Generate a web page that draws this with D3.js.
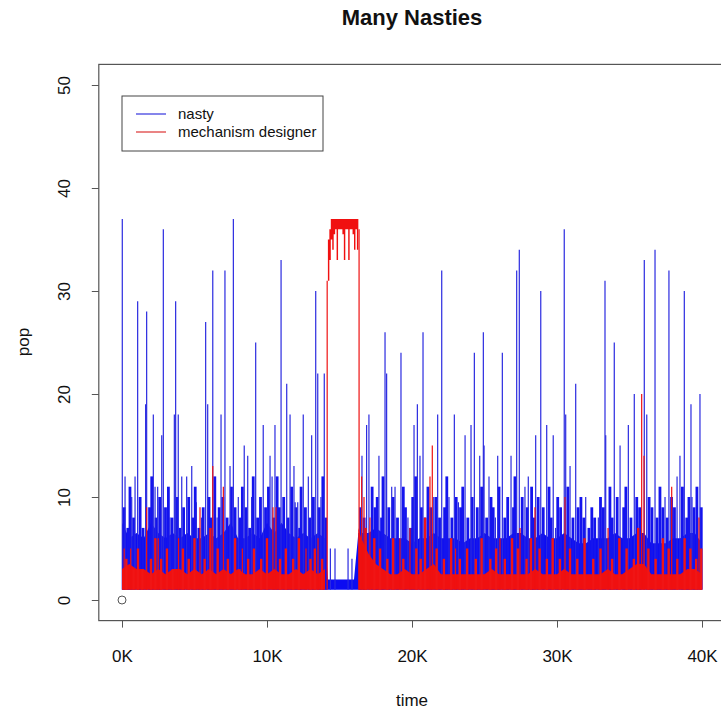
<!DOCTYPE html>
<html>
<head>
<meta charset="utf-8">
<script src="https://cdn.jsdelivr.net/npm/d3@7"></script>
<style>
  body { margin: 0; background: #fff; }
  text { font-family: "Liberation Sans", Arial, sans-serif; fill: #111; }
</style>
</head>
<body>
<svg id="chart" width="721" height="712"></svg>
<script>
// dense band (upper edge of the bulk of each series)
const bandT = [0, 500, 1000, 1500, 2000, 2500, 3000, 3500, 4000, 4500, 5000, 5500, 6000, 6500, 7000, 7500,
  8000, 8500, 9000, 9500, 10000, 10500, 11000, 11500, 12000, 12500, 13000, 13500, 14000, 14200, 14500, 15000,
  15500, 16000, 16300, 16500, 17000, 17500, 18000, 18500, 19000, 19500, 20000, 20500, 21000, 21500, 22000,
  22500, 23000, 23500, 24000, 24500, 25000, 25500, 26000, 26500, 27000, 27500, 28000, 28500, 29000, 29500,
  30000, 30500, 31000, 31500, 32000, 32500, 33000, 33500, 34000, 34500, 35000, 35500, 36000, 36500, 37000,
  37500, 38000, 38500, 39000, 39500, 40000]
const nastyBand = [7.5, 6, 6.5, 6, 7.5, 6.5, 6, 6.5, 6, 6.5, 6, 6, 6.5, 6, 6.5, 7.5,
  6, 6, 6.5, 6, 7.5, 6.5, 7.5, 6.5, 6, 6.5, 6, 6.5, 6, 2, 2, 2,
  2, 2, 6.5, 6.5, 6.5, 7, 6.5, 6, 6, 6, 5.5, 6, 6, 6.5, 6,
  6, 6, 5.5, 6, 6, 6.5, 6, 6, 6, 6.5, 6.5, 6, 6, 6.5, 6,
  6, 6.5, 6, 5.5, 5.5, 6, 6, 6, 6.5, 6, 6, 6.5, 6.5, 5.5, 5.5,
  5.5, 6, 6, 6.5, 6.5, 5.5]
const mdBand = [3, 3.5, 3, 3, 2.5, 3, 2.5, 3, 3, 2.5, 3, 2.5, 3, 2.5, 3, 2.5,
  3, 2.5, 2.5, 3, 2.5, 3, 2.5, 2.5, 3, 2.5, 3, 2.5, 3, 0, 0, 0,
  0, 0, 7, 6, 4.5, 3.5, 3, 2.5, 2.5, 3, 2.5, 2.5, 3, 3.5, 2.5,
  2.5, 2.5, 2.5, 2.5, 2.5, 2.5, 3, 2.5, 2.5, 2.5, 2.5, 2.5, 3, 2.5, 2.5,
  2.5, 3, 2.5, 2.5, 2.5, 2.5, 2.5, 3, 2.5, 2.5, 3, 3.5, 3.5, 2.5, 2.5,
  2.5, 2.5, 2.5, 3, 3, 2.5]
const bandFloor = 1

// mechanism designer plateau
const plateauT = [14200, 14300, 14400, 14500, 14600, 14700, 14800, 14900, 15000, 15100, 15200,
  15300, 15400, 15500, 15600, 15700, 15800, 15900, 16000, 16100, 16200, 16300]
const plateauLow = [31, 33, 35, 34, 35.5, 36, 33, 36, 36, 36, 35.5,
  33, 36, 36, 33, 36, 36, 35.5, 34, 36, 34, 36]
const plateauHigh = [35, 36, 37, 37, 37, 37, 37, 37, 37, 37, 37,
  37, 37, 37, 37, 37, 37, 37, 37, 37, 37, 37]

// tall single peaks: [time, pop]
const nastyPeaks = [
  [20, 37], [210, 12], [670, 10], [900, 12], [1080, 29], [1630, 19], [1700, 28], [2160, 18], [2280, 11],
  [2460, 11], [2740, 16], [2850, 36], [3310, 8], [3610, 18], [3700, 29], [3880, 18], [4120, 12], [4460, 12],
  [4810, 13], [5130, 9.5], [5480, 8], [5770, 27], [5910, 19], [6260, 32], [6560, 8], [6830, 18], [7100, 32],
  [7450, 13], [7680, 37], [8020, 10], [8430, 15], [8670, 14], [8940, 10], [9220, 25], [9740, 17],
  [10210, 14], [10350, 12], [10550, 17], [10970, 33], [11360, 21], [11590, 18], [11860, 13], [11940, 9.5],
  [12120, 9.5], [12500, 18], [12850, 12], [13080, 16], [13360, 30], [13500, 22], [13720, 10], [13950, 22],
  [14370, 5], [14690, 5], [15590, 5], [15860, 4],
  [16550, 14], [16870, 17], [17030, 18], [17720, 14], [18140, 26], [18250, 22], [18600, 11], [18830, 11],
  [19240, 24], [19720, 8], [20140, 17], [20370, 19], [20550, 14], [20760, 26], [21500, 10], [21770, 18],
  [22050, 32], [22550, 10], [22920, 18], [23200, 9.5], [23660, 16], [24070, 17], [24300, 24], [24670, 14],
  [24920, 26], [24970, 15], [25310, 12], [25750, 8], [25910, 14], [26230, 24], [26830, 14], [27220, 32],
  [27400, 34], [27790, 11], [28020, 12], [28530, 16], [28880, 30], [29290, 17], [29740, 16], [29900, 7],
  [30500, 36], [30600, 18], [30900, 13], [31290, 21], [31980, 10], [32850, 8], [33310, 31], [33360, 16],
  [33950, 25], [34350, 15], [34920, 17], [35330, 20], [36020, 33], [36190, 18], [36760, 34], [37450, 10],
  [37720, 32], [38280, 12], [38480, 14], [38780, 30], [39240, 19], [39310, 10], [39860, 20]
]
// the many short peaks that make up the ragged top of the band
const nastyMid = [
  [150, 9], [400, 7], [550, 11], [800, 8], [1250, 10], [1450, 7], [1900, 9], [2050, 12], [2350, 8], [2600, 10],
  [3000, 9], [3200, 11], [3450, 8], [3800, 10], [4000, 7], [4250, 9], [4600, 10], [4900, 8], [5050, 11],
  [5300, 7], [5600, 9], [6000, 10], [6150, 8], [6400, 12], [6700, 9], [6950, 10], [7250, 8], [7550, 11],
  [7800, 9], [8150, 8], [8300, 11], [8550, 9], [8800, 7], [9050, 12], [9350, 8], [9550, 10], [9900, 9],
  [10100, 11], [10450, 8], [10700, 12], [10850, 9], [11150, 10], [11450, 8], [11700, 11], [12000, 9],
  [12250, 7], [12350, 11], [12650, 9], [12950, 8], [13200, 10], [13600, 9], [13850, 12], [14050, 8],
  [16450, 9], [16700, 8], [17250, 11], [17450, 9], [17600, 10], [17900, 8], [18000, 12], [18400, 9],
  [18700, 10], [19000, 8], [19400, 11], [19550, 9], [19900, 7], [20050, 10], [20250, 12], [20650, 9],
  [20900, 8], [21100, 11], [21300, 9], [21650, 10], [21900, 8], [22250, 9], [22400, 12], [22750, 8],
  [23050, 10], [23350, 9], [23500, 11], [23850, 8], [24150, 10], [24500, 9], [24800, 11], [25150, 8],
  [25450, 10], [25600, 9], [26000, 11], [26400, 8], [26600, 10], [27000, 9], [27100, 12], [27600, 10],
  [27950, 9], [28250, 11], [28400, 8], [28700, 10], [29050, 9], [29450, 11], [29600, 8], [30050, 10],
  [30250, 9], [30750, 11], [31100, 8], [31450, 9], [31650, 10], [31850, 8], [32200, 7], [32400, 9],
  [32600, 8], [33000, 10], [33200, 9], [33650, 11], [33800, 8], [34150, 10], [34600, 9], [34750, 11],
  [35100, 8], [35500, 10], [35700, 9], [36350, 10], [36550, 9], [36900, 8], [37100, 11], [37300, 9],
  [37600, 8], [37900, 10], [38100, 9], [38650, 11], [38950, 8], [39100, 10], [39450, 9], [39650, 11],
  [39950, 9]
]
const mdPeaks = [
  [150, 5], [600, 5], [1700, 9], [2500, 6], [3900, 6], [5380, 9], [6260, 13], [6990, 11], [8300, 5],
  [10410, 9], [10620, 9], [12690, 5], [13520, 6],
  [14150, 31], [16350, 36],
  [16530, 12], [16690, 10], [17100, 8], [19170, 6], [19860, 7], [21240, 12], [21400, 15], [23000, 5],
  [26070, 6], [27450, 7], [28480, 9], [30550, 10], [33520, 7], [35840, 20], [36000, 14], [37910, 11],
  [39790, 8]
]
const mdMid = [
  [300, 4], [800, 3], [1100, 5], [1400, 3], [2000, 4], [2300, 6], [2700, 4], [3100, 5], [3500, 3], [4200, 5],
  [4600, 4], [5000, 6], [5700, 4], [6100, 7], [6600, 5], [7300, 4], [7800, 6], [8100, 3], [8700, 4],
  [9100, 5], [9600, 4], [10000, 6], [10900, 4], [11300, 5], [11800, 4], [12200, 6], [13000, 4], [13300, 5],
  [13800, 4], [16800, 7], [17400, 6], [17800, 5], [18300, 4], [18700, 6], [19400, 4], [20300, 5],
  [20600, 4], [20900, 8], [21700, 5], [22200, 4], [22700, 6], [23300, 4], [23800, 5], [24400, 4],
  [24800, 6], [25400, 4], [25800, 5], [26400, 4], [26900, 6], [27300, 5], [27900, 4], [28200, 6],
  [28800, 5], [29300, 4], [29700, 6], [30200, 4], [30900, 5], [31400, 4], [31900, 6], [32500, 4],
  [33000, 5], [33800, 4], [34300, 6], [34800, 5], [35300, 4], [35600, 7], [36300, 5], [36800, 4],
  [37300, 6], [37700, 5], [38300, 4], [38800, 6], [39200, 5], [39600, 4], [39950, 5]
]

const xTicks = [0, 10000, 20000, 30000, 40000]
const yTicks = [0, 10, 20, 30, 40, 50]

const svg = d3.select('#chart')

let x = d3.scaleLinear().domain([-1600, 41600]).range([98.8, 725.2])
let y = d3.scaleLinear().domain([-2, 52]).range([620.6, 64.4])

let bandArea = d3.area()
    .x(d => x(d.t))
    .y0(y(bandFloor))
    .y1(d => y(d.v))
    .defined(d => d.v > 0)

let plot = svg.append('g')

function spikes(data, cls, colour, width) {
    plot.selectAll('line.' + cls)
        .data(data)
        .join('line')
        .attr('class', cls)
        .attr('x1', d => x(d[0]))
        .attr('x2', d => x(d[0]))
        .attr('y1', y(bandFloor))
        .attr('y2', d => y(d[1]))
        .attr('stroke', colour)
        .attr('stroke-width', width)
}

// nasty first, then mechanism designer on top (as in the original)
plot.append('path')
    .datum(bandT.map((t, i) => ({ t: t, v: nastyBand[i] })))
    .attr('d', bandArea)
    .attr('fill', '#0c0cf2')
spikes(nastyMid, 'nmid', '#1414ee', 2.8)
spikes(nastyPeaks, 'nasty', '#2a2ae0', 1.2)

plot.append('path')
    .datum(bandT.map((t, i) => ({ t: t, v: mdBand[i] })))
    .attr('d', bandArea)
    .attr('fill', '#f01010')

plot.append('path')
    .datum(plateauT.map((t, i) => ({ t: t, lo: plateauLow[i], hi: plateauHigh[i] })))
    .attr('d', d3.area()
        .x(d => x(d.t))
        .y0(d => y(d.lo))
        .y1(d => y(d.hi))
        .curve(d3.curveStepAfter))
    .attr('fill', '#f01010')

spikes(mdMid, 'mdmid', '#f01515', 2.4)
spikes(mdPeaks, 'md', '#ee1111', 1.2)

// the empty point of plot(0, 0)
svg.append('circle')
    .attr('cx', x(0))
    .attr('cy', y(0))
    .attr('r', 4)
    .attr('fill', 'none')
    .attr('stroke', '#555')

// box
svg.append('rect')
    .attr('x', 98.8)
    .attr('y', 64.4)
    .attr('width', 725.2 - 98.8)
    .attr('height', 620.6 - 64.4)
    .attr('fill', 'none')
    .attr('stroke', '#555')
    .attr('stroke-width', 1.2)

// axes
let xAxis = svg.append('g')
    .attr('transform', `translate(0,${620.6})`)
    .call(d3.axisBottom(x).tickValues(xTicks).tickFormat(d => d / 1000 + 'K').tickSize(7).tickPadding(22))
xAxis.select('.domain').remove()
xAxis.selectAll('line').attr('stroke', '#555')
xAxis.selectAll('text').style('font-size', '17px').attr('fill', '#111')

let yAxis = svg.append('g')
    .attr('transform', `translate(${98.8},0)`)
    .call(d3.axisLeft(y).tickValues(yTicks).tickSize(7))
yAxis.select('.domain').remove()
yAxis.selectAll('line').attr('stroke', '#555')
yAxis.selectAll('text')
    .style('font-size', '17px')
    .attr('fill', '#111')
    .attr('x', null)
    .attr('dy', null)
    .attr('text-anchor', 'middle')
    .attr('transform', 'translate(-29,0) rotate(-90)')

// titles
svg.append('text')
    .attr('x', 412)
    .attr('y', 25)
    .attr('text-anchor', 'middle')
    .style('font-size', '22px')
    .style('font-weight', 'bold')
    .text('Many Nasties')

svg.append('text')
    .attr('x', 412)
    .attr('y', 706)
    .attr('text-anchor', 'middle')
    .style('font-size', '17px')
    .text('time')

svg.append('text')
    .attr('transform', 'translate(29,342) rotate(-90)')
    .attr('text-anchor', 'middle')
    .style('font-size', '17px')
    .text('pop')

// legend
let legend = svg.append('g')
legend.append('rect')
    .attr('x', 122).attr('y', 96)
    .attr('width', 201).attr('height', 55)
    .attr('fill', '#fff')
    .attr('stroke', '#444')

const legendItems = [['nasty', '#3333dd'], ['mechanism designer', '#dd3333']]
legendItems.forEach((item, i) => {
    let ly = 114 + i * 18
    legend.append('line')
        .attr('x1', 136).attr('x2', 166)
        .attr('y1', ly).attr('y2', ly)
        .attr('stroke', item[1])
        .attr('stroke-width', 1.2)
    legend.append('text')
        .attr('x', 178)
        .attr('y', ly + 5)
        .style('font-size', '15px')
        .text(item[0])
})
</script>
</body>
</html>
